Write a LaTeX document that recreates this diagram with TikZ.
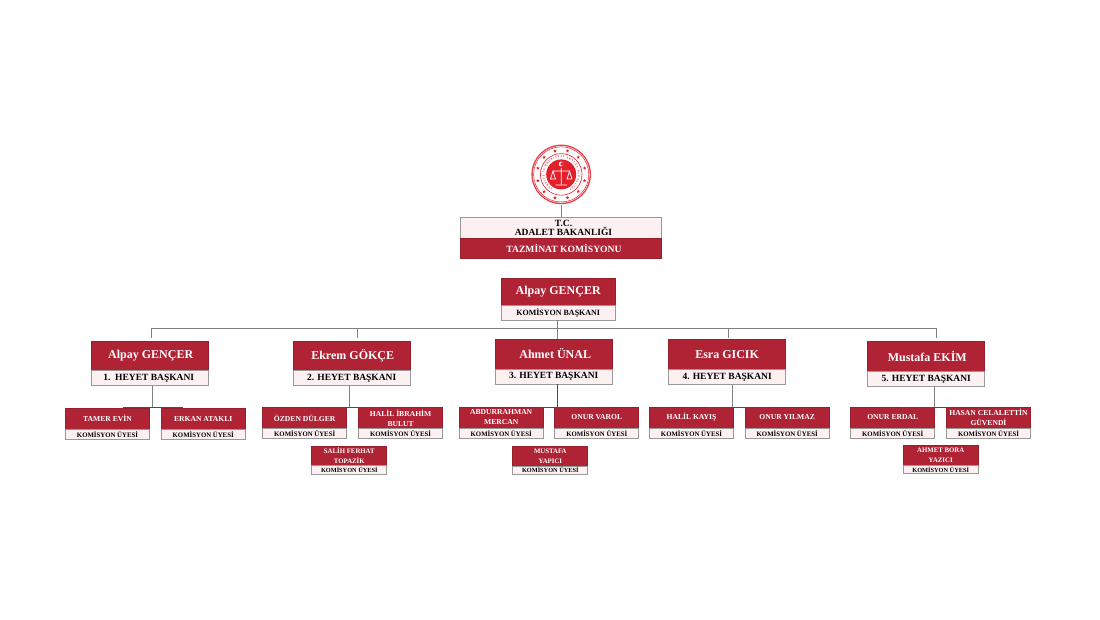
\documentclass[tikz,border=0pt]{standalone}
\usepackage{fontspec}
\setmainfont{Liberation Serif}
\usetikzlibrary{calc,decorations.text,shapes.geometric}
\definecolor{bordo}{HTML}{B02335}
\definecolor{pembe}{HTML}{FDF0F0}
\definecolor{cizgi}{HTML}{808080}
\definecolor{amblemk}{HTML}{E2202C}
\begin{document}
\begin{tikzpicture}
[x=1pt,y=-1pt,
kutu/.style={rectangle,line width=0.9pt,inner sep=0pt,align=center,text centered},
kirmizi/.style={kutu,draw=bordo!85!black,fill=bordo,text=white},
acik/.style={kutu,draw=cizgi!80,fill=pembe,text=black},
ustad/.style={kirmizi,minimum width=117pt,minimum height=30pt,font=\bfseries\fontsize{12}{15}\selectfont},
ustrol/.style={acik,minimum width=117pt,minimum height=15pt,font=\bfseries\fontsize{9.5}{11}\selectfont},
uyead/.style={kirmizi,minimum width=84pt,minimum height=21pt,font=\bfseries\fontsize{7.6}{10}\selectfont},
uyerol/.style={acik,minimum width=84pt,minimum height=10pt,font=\bfseries\fontsize{6.8}{8}\selectfont},
altad/.style={kirmizi,minimum width=75pt,minimum height=20pt,font=\bfseries\fontsize{6.8}{10}\selectfont},
altrol/.style={acik,minimum width=75pt,minimum height=8.5pt,font=\bfseries\fontsize{6.3}{7}\selectfont},
yildiz/.style={star,star points=5,star point ratio=2.2,fill=amblemk,inner sep=0pt,minimum size=3.6pt},
hat/.style={draw=cizgi,line width=0.9pt},
ust/.style={draw=black!70,line width=0.9pt}]
\useasboundingbox (0,0) rectangle (1100,619);
\fill[white] (0,0) rectangle (1100,619);

\coordinate (merkez) at (561.2,174.4);
\fill[amblemk!85!white] (merkez) circle (29.8);
\fill[white] (merkez) circle (28.4);
\draw[amblemk,line width=0.5pt] (merkez) circle (27.6);
\draw[amblemk,line width=0.6pt] (merkez) circle (20.8);
\fill[amblemk] (merkez) circle (15);
\foreach \a in {0,30,...,330} {\node[yildiz] (y\a) at ($(merkez)+(\a+15:24.2)$) {};}
\path[decorate,decoration={text along path,text align={fit to path},text color=amblemk,
  text={|\fontsize{2.6}{3}\selectfont\bfseries|TÜRKİYE CUMHURİYETİ ADALET BAKANLIĞI}}]
  (merkez) ++(120:16.8) arc (120:420:16.8);
\draw[white,line width=0.7pt] (555.5,185) -- (567,185) (561.2,168) -- (561.2,184) (553,171) -- (569.5,171)
  (553,171) -- (550.5,179) -- (555.5,179) -- cycle (569.5,171) -- (567,179) -- (572,179) -- cycle;
\fill[white] (561.2,164) circle (2.4);
\fill[amblemk] (562.1,164) circle (1.9);
\coordinate (amblem) at (561.2,205);

\node at (560.5,228) [acik,minimum width=201pt,minimum height=20.5pt,font=\bfseries\fontsize{9.5}{9.3}\selectfont] (bakanlik) {\hspace*{6pt}T.C.\\\hspace*{6pt}ADALET BAKANLIĞI};
\node at (560.5,248.5) [kirmizi,minimum width=201pt,minimum height=20.5pt,font=\bfseries\fontsize{9.6}{11}\selectfont] (komisyon) {\hspace*{7pt}TAZMİNAT KOMİSYONU};
\draw[hat] (amblem) -- (bakanlik.north -| amblem);

\node at (558.2,291.5) [ustad,minimum width=113.5pt,minimum height=27pt] (baskan) {Alpay GENÇER};
\node at (558.2,312.5) [ustrol,minimum width=113.5pt,font=\bfseries\fontsize{8}{10}\selectfont] (baskanrol) {KOMİSYON BAŞKANI};

\node at (149.7,356) [ustad] (h1) {\hspace*{2pt}Alpay GENÇER};
\node at (149.7,378) [ustrol] (r1) {\hspace*{-2pt}1.\ \ HEYET BAŞKANI};
\node at (351.7,356) [ustad] (h2) {\hspace*{2pt}Ekrem GÖKÇE};
\node at (351.7,378) [ustrol] (r2) {2. HEYET BAŞKANI};
\node at (553.7,354) [ustad] (h3) {\hspace*{3pt}Ahmet ÜNAL};
\node at (553.7,376.5) [ustrol] (r3) {3. HEYET BAŞKANI};
\node at (727.1,354.5) [ustad] (h4) {Esra GICIK};
\node at (727.1,377) [ustrol] (r4) {4. HEYET BAŞKANI};
\node at (926.3,356.5) [ustad] (h5) {\hspace*{2pt}Mustafa EKİM};
\node at (926.3,379) [ustrol] (r5) {5. HEYET BAŞKANI};

\coordinate (ana) at (557,328.3);
\draw[hat] (baskanrol.south -| ana) -- (ana);
\draw[hat] (151,338) -- (151,328.3) -- (936.7,328.3) -- (936.7,338);
\draw[hat] (357,328.3) -- (357,338);
\draw[hat] (ana) -- (h3.north -| ana);
\draw[hat] (728,328.3) -- (728,338);

\node at (107.5,418.5) [uyead] (a1) {TAMER EVİN};
\node at (107.5,434.3) [uyerol] (b1) {KOMİSYON ÜYESİ};
\node at (203.2,418.5) [uyead] (a2) {ERKAN ATAKLI};
\node at (203.2,434.3) [uyerol] (b2) {KOMİSYON ÜYESİ};

\node at (304.7,418) [uyead] (a3) {ÖZDEN DÜLGER};
\node at (304.7,433.7) [uyerol] (b3) {KOMİSYON ÜYESİ};
\node at (400.6,418) [uyead] (a4) {HALİL İBRAHİM\\BULUT};
\node at (400.6,433.7) [uyerol] (b4) {KOMİSYON ÜYESİ};
\node at (349.3,456) [altad] (a5) {SALİH FERHAT\\TOPAZİK};
\node at (349.3,470) [altrol] (b5) {KOMİSYON ÜYESİ};

\node at (501.2,417.5) [uyead] (a6) {ABDURRAHMAN\\MERCAN};
\node at (501.2,433.3) [uyerol] (b6) {KOMİSYON ÜYESİ};
\node at (596.8,417.5) [uyead] (a7) {ONUR VAROL};
\node at (596.8,433.3) [uyerol] (b7) {KOMİSYON ÜYESİ};
\node at (550.3,456) [altad] (a8) {MUSTAFA\\YAPICI};
\node at (550.3,470.2) [altrol] (b8) {KOMİSYON ÜYESİ};

\node at (691.5,417.5) [uyead] (a9) {HALİL KAYIŞ};
\node at (691.5,433.3) [uyerol] (b9) {KOMİSYON ÜYESİ};
\node at (787.2,417.5) [uyead] (a10) {ONUR YILMAZ};
\node at (787.2,433.3) [uyerol] (b10) {KOMİSYON ÜYESİ};

\node at (892.7,417.5) [uyead] (a11) {ONUR ERDAL};
\node at (892.7,433.3) [uyerol] (b11) {KOMİSYON ÜYESİ};
\node at (988.5,417.5) [uyead] (a12) {HASAN CELALETTİN\\GÜVENDİ};
\node at (988.5,433.3) [uyerol] (b12) {KOMİSYON ÜYESİ};
\node at (940.7,455.5) [altad] (a13) {AHMET BORA\\YAZICI};
\node at (940.7,469.5) [altrol] (b13) {KOMİSYON ÜYESİ};

\coordinate (k1) at (152.7,407.5);
\coordinate (k2) at (349.5,407.5);
\coordinate (k3) at (557.3,407.5);
\coordinate (k4) at (732.7,407.5);
\coordinate (k5) at (934,407.5);
\draw[hat] (r1.south -| k1) -- (k1);
\draw[hat] (r2.south -| k2) -- (k2);
\draw[ust] (r3.south -| k3) -- (k3);
\draw[hat] (r4.south -| k4) -- (k4);
\draw[hat] (r5.south -| k5) -- (k5);
\draw[ust] (k1) ++(-30,0) -- ++(60,0);
\draw[ust] (k2) ++(-29,0) -- ++(60,0);
\draw[ust] (k3) ++(-14,0) -- ++(47,0);
\draw[ust] (k4) ++(-25,0) -- ++(60,0);
\draw[ust] (k5) ++(-34,0) -- ++(57,0);
\end{tikzpicture}
\end{document}
